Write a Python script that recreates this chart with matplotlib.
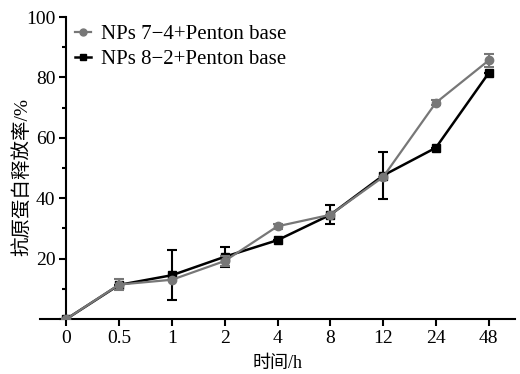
import numpy as np
import matplotlib.pyplot as plt
from matplotlib.lines import Line2D

plt.rcParams['font.family'] = ['Liberation Serif', 'Noto Sans CJK SC']

times = ['0', '0.5', '1', '2', '4', '8', '12', '24', '48']
np74 = [0, 11.4, 13.0, 19.2, 30.7, 34.5, 47.0, 71.6, 85.6]
np74_err = [0, 1.7, 0, 1.5, 0.8, 0, 0, 0.8, 2.2]
np82 = [0, 11.3, 14.5, 20.6, 26.1, 34.5, 47.5, 56.7, 81.4]
np82_err = [0, 0, 8.3, 3.4, 0, 3.1, 7.9, 0, 0]

gray = '#777777'
x = np.arange(len(times))

fig = plt.figure(figsize=(5.2, 3.74), dpi=100)
ax = fig.add_axes([40 / 520, 1 - 319 / 374, 475 / 520, 302 / 374])

ax.errorbar(x, np82, yerr=np82_err, color='black', lw=1.8, marker='s', ms=6,
            capsize=3.5, elinewidth=1.5, capthick=1.5, zorder=3)
ax.errorbar(x, np74, yerr=np74_err, color=gray, lw=1.6, marker='o', ms=6,
            capsize=3.5, elinewidth=1.5, capthick=1.5, zorder=4)

ax.set_xlim(-0.5, 8.5)
ax.set_ylim(0, 100)
ax.spines['left'].set_position(('data', 0))
ax.spines['right'].set_visible(False)
ax.spines['top'].set_visible(False)
ax.spines['left'].set_linewidth(1.5)
ax.spines['bottom'].set_linewidth(1.5)
ax.set_xticks(x)
ax.set_xticklabels(times)
ax.set_yticks([0, 20, 40, 60, 80, 100])
ax.set_yticklabels(['', '20', '40', '60', '80', '100'])
ax.set_yticks(np.arange(10, 100, 20), minor=True)
ax.tick_params(axis='both', which='major', labelsize=14, width=1.5, length=5, pad=3)
ax.tick_params(axis='y', which='minor', width=1.5, length=3)
ax.set_xlabel('时间/h', fontsize=13, labelpad=6)
ax.set_ylabel('抗原蛋白释放率/%', fontsize=14)
ax.yaxis.set_label_coords(-0.018, 0.47, transform=ax.transAxes)

handles = [Line2D([], [], color=gray, lw=1.6, marker='o', ms=5),
           Line2D([], [], color='black', lw=1.8, marker='s', ms=5)]
labels = ['NPs 7\u22124+Penton base', 'NPs 8\u22122+Penton base']
ax.legend(handles, labels, loc='upper left', bbox_to_anchor=(0.074, 0.975), frameon=False,
          borderpad=0, borderaxespad=0, fontsize=15, handlelength=0.75,
          handletextpad=0.5, labelspacing=0.25)

fig.savefig('out.png', dpi=100)
